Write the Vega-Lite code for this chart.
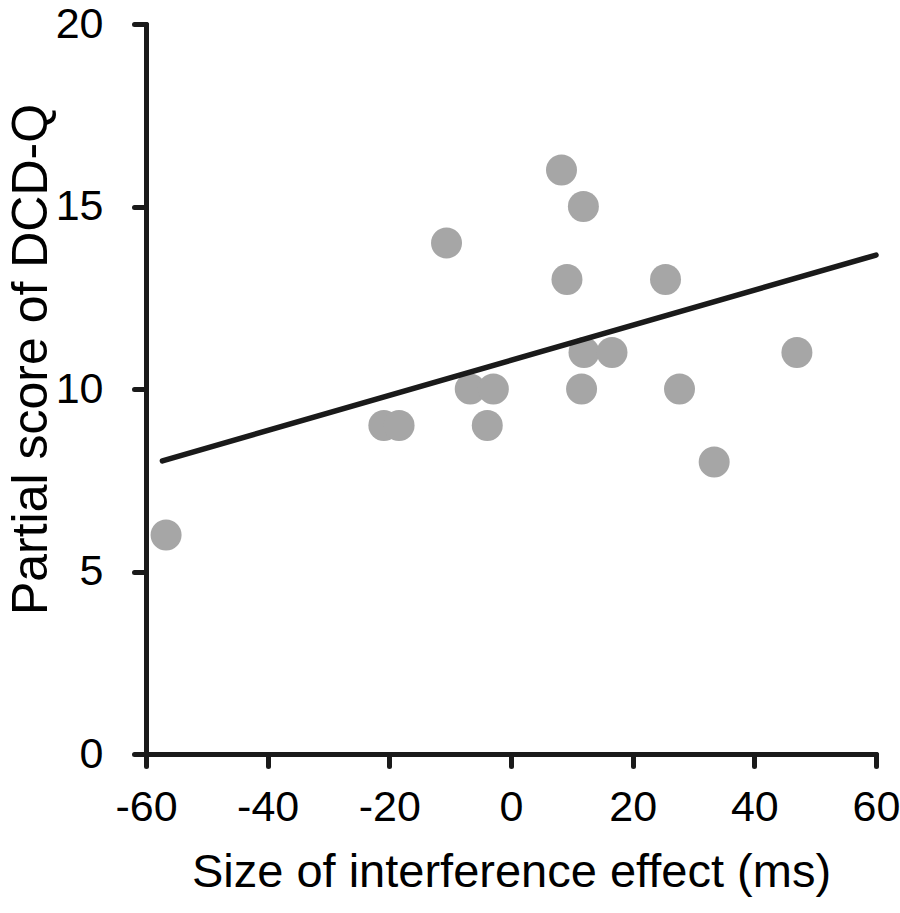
{
  "$schema": "https://vega.github.io/schema/vega-lite/v6.json",
  "width": 730,
  "height": 730,
  "autosize": "none",
  "padding": {"left": 146, "top": 24, "right": 24, "bottom": 159},
  "background": "white",
  "config": {
    "view": {"stroke": null},
    "font": "Liberation Sans",
    "axis": {
      "grid": false,
      "domainColor": "#1a1a1a",
      "domainWidth": 5,
      "domainCap": "round",
      "tickColor": "#1a1a1a",
      "tickWidth": 5,
      "tickCap": "round",
      "tickSize": 12,
      "labelFont": "Liberation Sans",
      "labelFontSize": 43,
      "labelColor": "#000000",
      "titleFont": "Liberation Sans",
      "titleFontSize": 47,
      "titleFontWeight": "normal",
      "titleColor": "#000000"
    }
  },
  "datasets": {
    "points": [
      {"effect": -56.7, "score": 6},
      {"effect": -20.9, "score": 9},
      {"effect": -18.4, "score": 9},
      {"effect": -10.6, "score": 14},
      {"effect": -6.7, "score": 10},
      {"effect": -2.9, "score": 10},
      {"effect": -3.9, "score": 9},
      {"effect": 8.3, "score": 16},
      {"effect": 11.9, "score": 15},
      {"effect": 9.2, "score": 13},
      {"effect": 12.0, "score": 11},
      {"effect": 16.6, "score": 11},
      {"effect": 11.6, "score": 10},
      {"effect": 25.4, "score": 13},
      {"effect": 47.0, "score": 11},
      {"effect": 27.7, "score": 10},
      {"effect": 33.4, "score": 8}
    ],
    "fit": [
      {"effect": -57.3, "score": 8.03},
      {"effect": 60, "score": 13.67}
    ]
  },
  "layer": [
    {
      "data": {"name": "points"},
      "mark": {"type": "circle", "size": 960, "color": "#a6a6a6", "opacity": 1},
      "encoding": {
        "x": {
          "field": "effect",
          "type": "quantitative",
          "scale": {"domain": [-60, 60], "nice": false, "zero": false},
          "axis": {
            "title": "Size of interference effect (ms)",
            "values": [-60, -40, -20, 0, 20, 40, 60],
            "labelExpr": "datum.value < 0 ? '-' + abs(datum.value) : '' + datum.value",
            "labelPadding": 20,
            "titlePadding": 20,
            "labelFlush": false,
            "labelOverlap": false
          }
        },
        "y": {
          "field": "score",
          "type": "quantitative",
          "scale": {"domain": [0, 20], "nice": false},
          "axis": {
            "title": "Partial score of DCD-Q",
            "titleFontSize": 50,
            "titleBaseline": "alphabetic",
            "titleX": -100,
            "titleY": 335,
            "values": [0, 5, 10, 15, 20],
            "labelPadding": 31,
            "labelFlush": false,
            "labelOverlap": false
          }
        }
      }
    },
    {
      "data": {"name": "fit"},
      "mark": {"type": "line", "color": "#1a1a1a", "strokeWidth": 5.5, "strokeCap": "round"},
      "encoding": {
        "x": {"field": "effect", "type": "quantitative"},
        "y": {"field": "score", "type": "quantitative"}
      }
    }
  ]
}
